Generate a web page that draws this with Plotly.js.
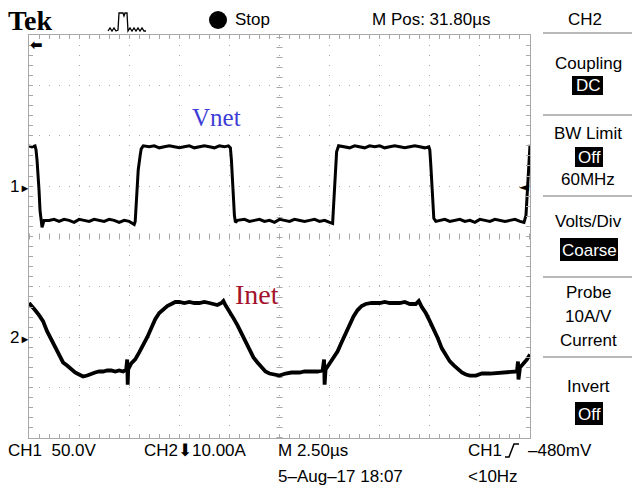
<!DOCTYPE html>
<html>
<head>
<meta charset="utf-8">
<script src="https://cdn.plot.ly/plotly-3.0.1.min.js"></script>
<style>html,body{margin:0;padding:0;background:#fff;}#chart{width:632px;height:493px;}</style>
</head>
<body>
<div id="chart"></div>
<script>
// ---- Data (time in µs from left edge of screen) ----
const vnetTime = [0,0.15,0.30,0.35,0.40,0.45,0.50,0.55,0.60,0.65,0.75,1.0,1.25,1.5,1.75,2.0,2.25,2.5,2.75,3.0,3.25,3.5,3.75,4.0,4.25,4.5,4.75,5.0,5.15,5.25,5.3,5.35,5.4,5.45,5.55,5.6,5.7,6.0,6.25,6.5,6.75,7.0,7.25,7.5,7.75,8.0,8.25,8.5,8.75,9.0,9.25,9.5,9.75,9.95,10.05,10.1,10.15,10.2,10.25,10.3,10.4,10.75,11.0,11.25,11.5,11.75,12.0,12.25,12.5,12.75,13.0,13.25,13.5,13.75,14.0,14.25,14.5,14.75,15.0,15.15,15.2,15.25,15.3,15.35,15.45,15.75,16.0,16.25,16.5,16.75,17.0,17.25,17.5,17.75,18.0,18.25,18.5,18.75,19.0,19.25,19.5,19.75,19.95,20.0,20.05,20.1,20.15,20.2,20.3,20.5,20.75,21.0,21.25,21.5,21.75,22.0,22.25,22.5,22.75,23.0,23.25,23.5,23.75,24.0,24.25,24.5,24.7,24.8,24.85,24.9,24.95,25.0];
const vnetVolts = [40,39,40,36,26,14,-4,-24,-36,-41,-34,-34,-33,-35,-33,-34,-36,-33,-34,-35,-33,-34,-35,-33,-34,-36,-34,-35,-37,-38,-35,-14,1,16,31,37,40,39,40,38,39,40,39,38,39,40,38,39,40,39,38,40,39,40,38,26,6,-14,-29,-36,-34,-33,-35,-34,-33,-35,-34,-36,-33,-34,-35,-33,-34,-35,-34,-33,-35,-34,-36,-37,-19,1,21,34,40,39,38,40,39,38,40,39,40,38,39,40,39,38,39,40,39,38,39,36,21,1,-19,-32,-35,-34,-33,-35,-34,-33,-35,-34,-36,-33,-34,-35,-33,-34,-35,-34,-33,-35,-36,-29,-9,16,36,41];

const inetTime = [0,0.15,0.3,0.5,0.7,0.9,1.1,1.3,1.5,1.7,1.9,2.1,2.3,2.5,2.7,2.9,3.1,3.3,3.5,3.7,3.9,4.1,4.3,4.5,4.7,4.85,4.9,4.925,4.95,5.1,5.3,5.5,5.7,5.9,6.1,6.3,6.5,6.7,6.9,7.1,7.3,7.5,7.75,8.0,8.25,8.5,8.75,9.0,9.2,9.4,9.6,9.7,9.8,10.0,10.2,10.4,10.6,10.8,11.0,11.2,11.4,11.6,11.8,12.0,12.2,12.5,12.8,13.1,13.5,13.75,14.0,14.4,14.65,14.725,14.75,14.8,15.0,15.2,15.4,15.6,15.8,16.0,16.2,16.4,16.6,16.8,17.1,17.5,17.75,18.0,18.25,18.5,18.75,19.0,19.3,19.45,19.6,19.8,20.0,20.2,20.4,20.6,20.8,21.0,21.2,21.4,21.6,21.8,22.0,22.3,22.6,23.0,23.5,24.0,24.35,24.4,24.425,24.5,24.7,24.85,25.0];
const inetAmps = [6.8,6.2,5.4,4.4,3.2,1.2,-0.4,-2.2,-3.8,-5.0,-5.6,-6.4,-7.0,-7.4,-7.8,-7.6,-7.2,-7.0,-6.8,-6.8,-6.6,-6.6,-6.8,-6.6,-6.8,-6.4,-4.4,-9.4,-6.4,-5.2,-4.4,-3.0,-1.6,0,1.8,3.6,4.8,5.6,6.2,6.6,7.0,7.0,6.8,7.0,6.8,6.8,7.0,6.8,6.6,6.4,6.8,7.2,6.4,5.2,3.8,2.4,0.8,-1.2,-2.8,-4.0,-5.0,-6.0,-6.8,-7.2,-7.4,-7.6,-7.2,-7.0,-7.0,-6.8,-6.8,-6.8,-6.6,-4.4,-9.4,-6.4,-5.2,-4.0,-2.8,-1.0,0.8,2.8,4.2,5.4,6.2,6.6,6.8,6.8,7.0,6.8,6.8,6.8,7.0,6.6,6.6,7.2,6.0,4.8,3.2,1.6,-0.2,-2.2,-3.6,-4.8,-5.6,-6.4,-7.0,-7.4,-7.6,-7.6,-7.2,-7.2,-7.0,-6.8,-6.8,-4.8,-8.4,-6.0,-5.2,-4.4,-3.4];

const traceLabels = ["Vnet", "Inet"];
const topTexts = ["Stop", "M Pos: 31.80\u00b5s", "CH2"];
const menuTexts = ["Coupling", "BW Limit", "60MHz", "Volts/Div", "Probe", "10A/V", "Current", "Invert"];
const menuBoxed = ["DC", "Off", "Coarse", "Off"];
const bottomTexts = ["CH1  50.0V", "CH2\u2b0710.00A", "M 2.50\u00b5s", "CH1", "\u2013480mV", "5\u2013Aug\u201317 18:07", "<10Hz"];

// ---- Screen geometry helpers (pixel -> paper) ----
const PL = 29, PR = 530, PT = 35, PB = 438;
const px = x => (x - PL) / (PR - PL);
const py = y => (PB - y) / (PB - PT);
const FONT = "Liberation Sans, Arial, sans-serif";
const FS = 17;
const GRID = '#a8a8a8';

function txt(text, x, y, opts) {
  opts = opts || {};
  return {
    text: text, xref: 'paper', yref: 'paper', x: px(x), y: py(y),
    xanchor: opts.xanchor || 'left', yanchor: 'middle', showarrow: false,
    font: {family: opts.family || FONT, size: opts.size || FS, color: opts.color || '#000'}
  };
}
function pathOf(pts) {
  return pts.map((p, i) => (i ? 'L' : 'M') + px(p[0]).toFixed(5) + ',' + py(p[1]).toFixed(5)).join(' ');
}
function rect(x0, y0, x1, y1) {
  return {type: 'rect', xref: 'paper', yref: 'paper', x0: px(x0), x1: px(x1), y0: py(y1), y1: py(y0),
          fillcolor: '#000', line: {width: 0}};
}
function hline(x0, x1, y) {
  return {type: 'line', xref: 'paper', yref: 'paper', x0: px(x0), x1: px(x1), y0: py(y), y1: py(y),
          line: {color: '#a0a0a0', width: 1.5}};
}

const traces = [
  {x: vnetTime, y: vnetVolts, name: traceLabels[0], type: 'scatter', mode: 'lines', yaxis: 'y',
   line: {color: '#000', width: 3, shape: 'linear'}, hoverinfo: 'skip'},
  {x: inetTime, y: inetAmps, name: traceLabels[1], type: 'scatter', mode: 'lines', yaxis: 'y2',
   line: {color: '#000', width: 3.8, shape: 'linear'}, hoverinfo: 'skip'}
];

const axisCommon = {
  showline: true, linecolor: GRID, linewidth: 1, mirror: 'ticks',
  ticks: 'inside', ticklen: 4, tickcolor: GRID, tickwidth: 1,
  showticklabels: false, zeroline: false,
  showgrid: true, gridcolor: GRID, gridwidth: 1, griddash: '1px,9px',
  fixedrange: true
};

const pulse = [[108,31],[110,28],[112,31],[114,28],[116,31],[118,30],[119,13],[123,13],[124,16],[125,13],[127,13],[128,31],[130,28],[132,31],[134,28],[136,31],[138,28],[140,31],[142,28],[144,31],[146,31]];
const trigSym = [[505,457],[509,457],[514,444],[519,444]];

const shapes = [
  {type: 'line', xref: 'paper', yref: 'paper', x0: 0, x1: 1, y0: 0.5, y1: 0.5, layer: 'below',
   line: {color: GRID, width: 6, dash: '1px,9px'}},
  {type: 'line', xref: 'paper', yref: 'paper', x0: 0.5, x1: 0.5, y0: 0, y1: 1, layer: 'below',
   line: {color: GRID, width: 6, dash: '1px,9px'}},
  {type: 'path', xref: 'paper', yref: 'paper', path: pathOf(pulse), line: {color: '#000', width: 1.3}},
  {type: 'path', xref: 'paper', yref: 'paper', path: pathOf(trigSym), line: {color: '#000', width: 1.5}},
  {type: 'circle', xref: 'paper', yref: 'paper', x0: px(209), x1: px(227), y0: py(29), y1: py(11),
   fillcolor: '#000', line: {width: 0}},
  hline(543, 632, 33), hline(543, 632, 115), hline(543, 632, 196), hline(543, 632, 277), hline(543, 632, 357),
  rect(572, 76, 603, 95), rect(575, 147, 603, 167), rect(560, 238, 618, 261), rect(575, 402, 603, 425)
];

const annotations = [
  txt('<b>Tek</b>', 6, 21, {family: 'Liberation Serif, serif', size: 28}),
  txt(topTexts[0], 233, 20),
  txt(topTexts[1], 370, 20),
  txt(topTexts[2], 566, 20),
  txt('<b>\u2b05</b>', 28, 45, {family: 'DejaVu Sans, sans-serif', size: 15}),
  txt('1<span style="font-size:11px">\u25ba</span>', 8, 186, {size: 17}),
  txt('2<span style="font-size:11px">\u25ba</span>', 8, 337, {size: 17}),
  txt('\u25c4', 531, 186, {xanchor: 'right', family: 'DejaVu Sans, sans-serif', size: 13}),
  txt(traceLabels[0], 190, 118, {family: 'Liberation Serif, serif', size: 25, color: '#3d3dd6'}),
  txt(traceLabels[1], 233, 294, {family: 'Liberation Serif, serif', size: 28, color: '#a3122a'}),
  // right menu
  txt(menuTexts[0], 588, 63, {xanchor: 'center'}),
  txt(menuBoxed[0], 588, 86, {xanchor: 'center', color: '#fff'}),
  txt(menuTexts[1], 588, 133, {xanchor: 'center'}),
  txt(menuBoxed[1], 589, 157, {xanchor: 'center', color: '#fff'}),
  txt(menuTexts[2], 588, 180, {xanchor: 'center'}),
  txt(menuTexts[3], 588, 221, {xanchor: 'center'}),
  txt(menuBoxed[2], 589, 250, {xanchor: 'center', color: '#fff'}),
  txt(menuTexts[4], 588, 292, {xanchor: 'center'}),
  txt(menuTexts[5], 588, 316, {xanchor: 'center'}),
  txt(menuTexts[6], 588, 340, {xanchor: 'center'}),
  txt(menuTexts[7], 588, 386, {xanchor: 'center'}),
  txt(menuBoxed[3], 589, 414, {xanchor: 'center', color: '#fff'}),
  // bottom status
  txt(bottomTexts[0], 6, 450),
  txt(bottomTexts[1], 142, 450),
  txt(bottomTexts[2], 276, 450),
  txt(bottomTexts[3], 466, 450),
  txt(bottomTexts[4], 526, 450),
  txt(bottomTexts[5], 276, 477),
  txt(bottomTexts[6], 466, 477)
];

const layout = {
  width: 632, height: 493,
  margin: {l: PL, r: 632 - PR, t: PT, b: 493 - PB, pad: 0},
  paper_bgcolor: '#fff', plot_bgcolor: '#fff',
  showlegend: false,
  xaxis: Object.assign({}, axisCommon, {range: [0, 25], tick0: 0, dtick: 2.5,
    minor: {dtick: 0.5, ticks: 'inside', ticklen: 4, tickcolor: GRID, showgrid: false}}),
  yaxis: Object.assign({}, axisCommon, {range: [-250, 150], tick0: 0, dtick: 50,
    minor: {dtick: 10, ticks: 'inside', ticklen: 4, tickcolor: GRID, showgrid: false}}),
  yaxis2: {overlaying: 'y', range: [-20, 60], visible: false, fixedrange: true},
  shapes: shapes,
  annotations: annotations
};

Plotly.newPlot('chart', traces, layout, {displayModeBar: false, staticPlot: true});
</script>
</body>
</html>
